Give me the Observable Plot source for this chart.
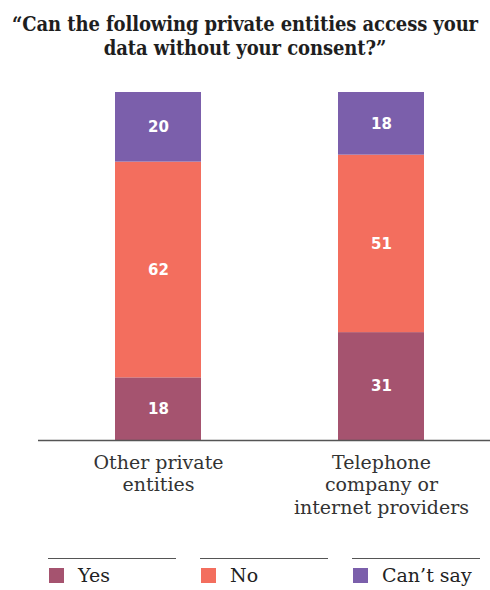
<!DOCTYPE html>
<html>
<head>
<meta charset="utf-8">
<script src="https://cdn.jsdelivr.net/npm/d3@7"></script>
<script src="https://cdn.jsdelivr.net/npm/@observablehq/plot@0.6"></script>
<style>
  html, body { margin: 0; padding: 0; background: #fff; }
  body { width: 490px; height: 590px; position: relative; overflow: hidden; font-family: "DejaVu Serif", serif; color: #222; }
  #title { position: absolute; left: 0; top: 12px; width: 490px; text-align: center; font-weight: bold; font-size: 20px; line-height: 24px; color: #1e1e1e; font-stretch: condensed; letter-spacing: -0.1px; }
  #chart { position: absolute; left: 0; top: 70px; }
  #legend { position: absolute; left: 0; top: 558px; width: 490px; }
  .item { position: absolute; top: 0; width: 128px; border-top: 1.5px solid #555; }
  .sw { position: absolute; left: 1px; top: 9px; width: 15px; height: 15px; }
  .lab { position: absolute; left: 30px; top: 5px; font-size: 19px; white-space: nowrap; color: #222; }
</style>
</head>
<body>
<div id="title">“Can the following private entities access your<br>data without your consent?”</div>
<div id="chart"></div>
<div id="legend"></div>
<script>
const categories = ["Other private entities", "Telephone company or internet providers"];
const categoryLabels = ["Other private\nentities", "Telephone\ncompany or\ninternet providers"];
const responses = ["Yes", "No", "Can’t say"];
const colors = ["#a5536f", "#f36e5e", "#7b5fab"];
const yesValues = [18, 31];
const noValues = [62, 51];
const cantSayValues = [20, 18];

const seriesValues = [yesValues, noValues, cantSayValues];
const data = [];
categories.forEach((c, i) => {
  responses.forEach((r, j) => data.push({category: c, response: r, value: seriesValues[j][i]}));
});

const plot = Plot.plot({
  width: 490,
  height: 460,
  marginTop: 22,
  marginBottom: 90,
  marginLeft: 38,
  marginRight: 0,
  style: {fontFamily: "DejaVu Serif, serif", background: "transparent"},
  x: {domain: categories, paddingInner: 0.616, paddingOuter: 0.317, align: 0.535, label: null},
  y: {domain: [0, 100], axis: null},
  color: {domain: responses, range: colors},
  marks: [
    Plot.barY(data, {x: "category", y: "value", fill: "response", order: responses}),
    Plot.text(data, Plot.stackY({x: "category", y: "value", z: "response", order: responses, text: "value", fill: "white", fontWeight: "bold", fontSize: 15, fontFamily: "DejaVu Sans, sans-serif"})),
    Plot.ruleY([0], {stroke: "#555", strokeWidth: 1.5}),
    Plot.axisX({tickSize: 0, tickPadding: 12, fontSize: 19, lineHeight: 1.2, fill: "#333", tickFormat: d => categoryLabels[categories.indexOf(d)], label: null})
  ]
});
document.getElementById("chart").appendChild(plot);

const legend = document.getElementById("legend");
responses.forEach((r, i) => {
  const item = document.createElement("div");
  item.className = "item";
  item.style.left = (48 + i * 152) + "px";
  const sw = document.createElement("div");
  sw.className = "sw";
  sw.style.background = colors[i];
  const lab = document.createElement("div");
  lab.className = "lab";
  lab.textContent = r;
  item.appendChild(sw);
  item.appendChild(lab);
  legend.appendChild(item);
});
</script>
</body>
</html>
